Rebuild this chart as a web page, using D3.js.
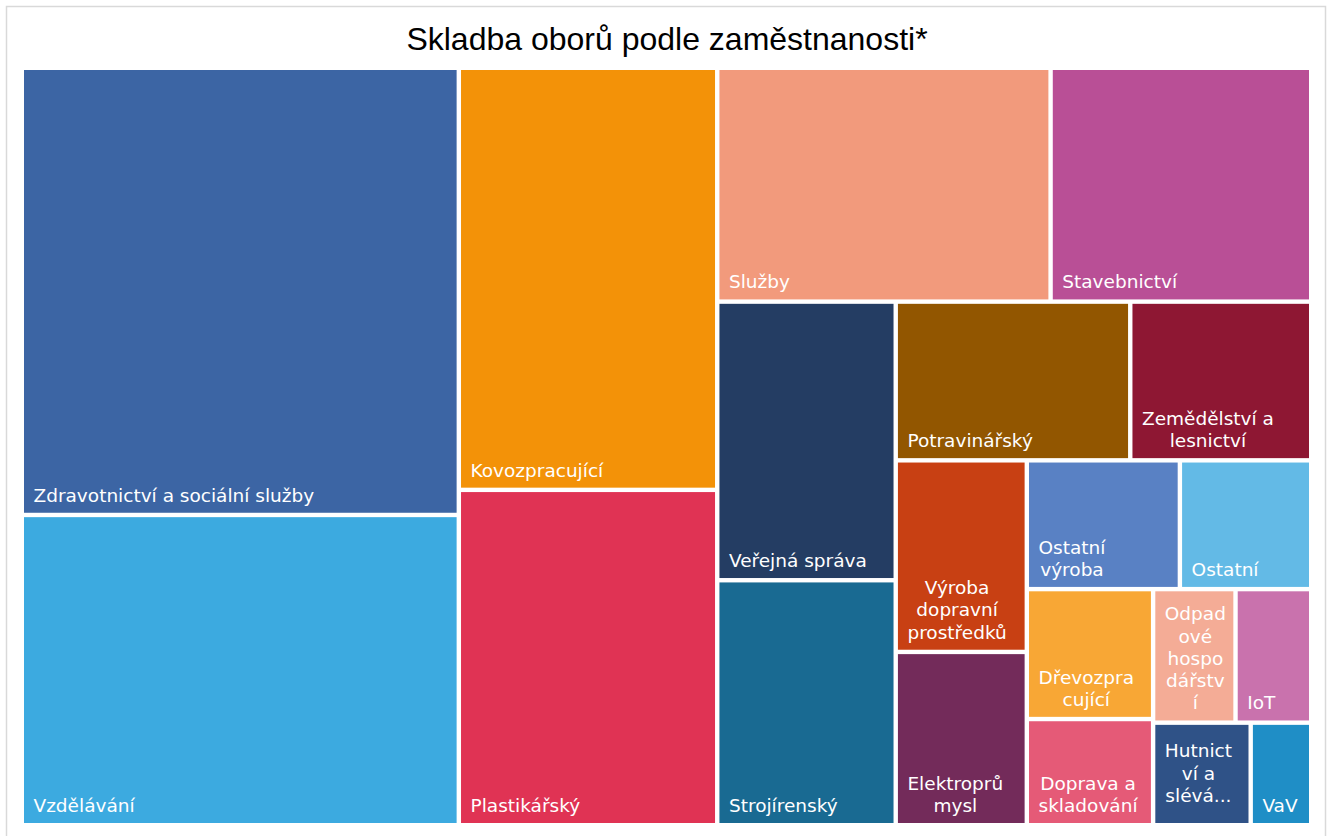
<!DOCTYPE html>
<html>
<head>
<meta charset="utf-8">
<script src="https://cdn.jsdelivr.net/npm/d3@7"></script>
<style>
  body { margin: 0; background: #fff; }
  svg { display: block; }
</style>
</head>
<body>
<div id="chart"></div>
<script>
// data (relative employment)
var categories = [
    'Zdravotnictví a sociální služby', 'Vzdělávání', 'Kovozpracující', 'Plastikářský',
    'Služby', 'Stavebnictví', 'Veřejná správa', 'Strojírenský',
    'Potravinářský', 'Zemědělství a lesnictví', 'Výroba dopravní prostředků', 'Elektroprůmysl',
    'Ostatní výroba', 'Ostatní', 'Dřevozpracující', 'Doprava a skladování',
    'Odpadové hospodářství', 'IoT', 'Hutnictví a slévárenství', 'VaV'
];
var values = [
    1953, 1355, 1090, 866,
    779, 609, 497, 437,
    372, 287, 251, 227,
    197, 169, 164, 134,
    110, 101, 100, 62
];
var colors = [
    '#3C65A4', '#3CAAE0', '#F39208', '#E03354',
    '#F29A7C', '#B94F96', '#243D63', '#196A92',
    '#925600', '#8E1733', '#C84013', '#732B5A',
    '#5981C4', '#63BAE6', '#F8A735', '#E55A77',
    '#F4AC96', '#C972AD', '#2F5287', '#1F8EC6'
];
var title = 'Skladba oborů podle zaměstnanosti*';

var width = 1333, height = 836;
var plot = { x: 24, y: 70, w: 1285, h: 753 };
var fontSize = 18.5, lineH = 22.3;

var svg = d3.select('#chart').append('svg')
    .attr('width', width)
    .attr('height', height);

// chart frame
svg.append('rect')
    .attr('x', 6.5).attr('y', 6.5)
    .attr('width', 1319).attr('height', 860)
    .attr('fill', '#fff')
    .attr('stroke', '#D9D9D9')
    .attr('stroke-width', 1.5);

svg.append('text')
    .attr('x', 667).attr('y', 50)
    .attr('text-anchor', 'middle')
    .style('font-family', '"Liberation Sans", Arial, sans-serif')
    .style('font-size', '32px')
    .attr('fill', '#000')
    .text(title);

var root = d3.hierarchy({ children: categories.map(function (c, i) {
        return { name: c, value: values[i], color: colors[i] };
    }) })
    .sum(function (d) { return d.value; })
    .sort(function (a, b) { return b.value - a.value; });

d3.treemap()
    .tile(d3.treemapSquarify.ratio(1))
    .size([plot.w, plot.h])
    .paddingInner(4.4)(root);

var g = svg.append('g').attr('transform', 'translate(' + plot.x + ',' + plot.y + ')');

var cell = g.selectAll('g.cell')
    .data(root.leaves())
    .enter().append('g')
    .attr('class', 'cell')
    .attr('transform', function (d) { return 'translate(' + d.x0 + ',' + d.y0 + ')'; });

cell.append('rect')
    .attr('width', function (d) { return d.x1 - d.x0; })
    .attr('height', function (d) { return d.y1 - d.y0; })
    .attr('fill', function (d) { return d.data.color; });

// text measuring helper
var meas = svg.append('text')
    .style('font-family', '"DejaVu Sans", Verdana, sans-serif')
    .style('font-size', fontSize + 'px')
    .attr('visibility', 'hidden');
function textW(s) {
    meas.text(s);
    return meas.node().getComputedTextLength();
}

function wrap(label, maxW) {
    var words = label.split(' ');
    var lines = [];
    var cur = '';
    words.forEach(function (word) {
        var cand = cur ? cur + ' ' + word : word;
        if (textW(cand) <= maxW) { cur = cand; return; }
        if (cur) lines.push(cur);
        if (textW(word) <= maxW) { cur = word; return; }
        var piece = '';
        for (var k = 0; k < word.length; k++) {
            var ch = word[k];
            if (textW(piece + ch) <= maxW || piece === '') piece += ch;
            else { lines.push(piece); piece = ch; }
        }
        cur = piece;
    });
    if (cur) lines.push(cur);
    return lines;
}

cell.each(function (d) {
    var w = d.x1 - d.x0, h = d.y1 - d.y0;
    var lines = wrap(d.data.name, w - 16.54);
    var maxLines = Math.floor((h - 14) / lineH);
    var truncated = false;
    if (lines.length > maxLines) {
        lines = lines.slice(0, maxLines);
        var last = lines[lines.length - 1];
        lines[lines.length - 1] = last.slice(0, -2) + '...';
        truncated = true;
    }
    var blockW = d3.max(lines, textW);
    var cx = 9.5 + blockW / 2;
    var firstBase;
    if (truncated) {
        firstBase = (h - lines.length * lineH) / 2 + 17;
    } else {
        firstBase = h - 11 - (lines.length - 1) * lineH;
    }
    var t = d3.select(this).append('text')
        .attr('text-anchor', 'middle')
        .style('font-family', '"DejaVu Sans", Verdana, sans-serif')
        .style('font-size', fontSize + 'px')
        .attr('fill', '#fff');
    lines.forEach(function (ln, i) {
        t.append('tspan')
            .attr('x', cx)
            .attr('y', firstBase + i * lineH)
            .text(ln);
    });
});

meas.remove();
</script>
</body>
</html>
